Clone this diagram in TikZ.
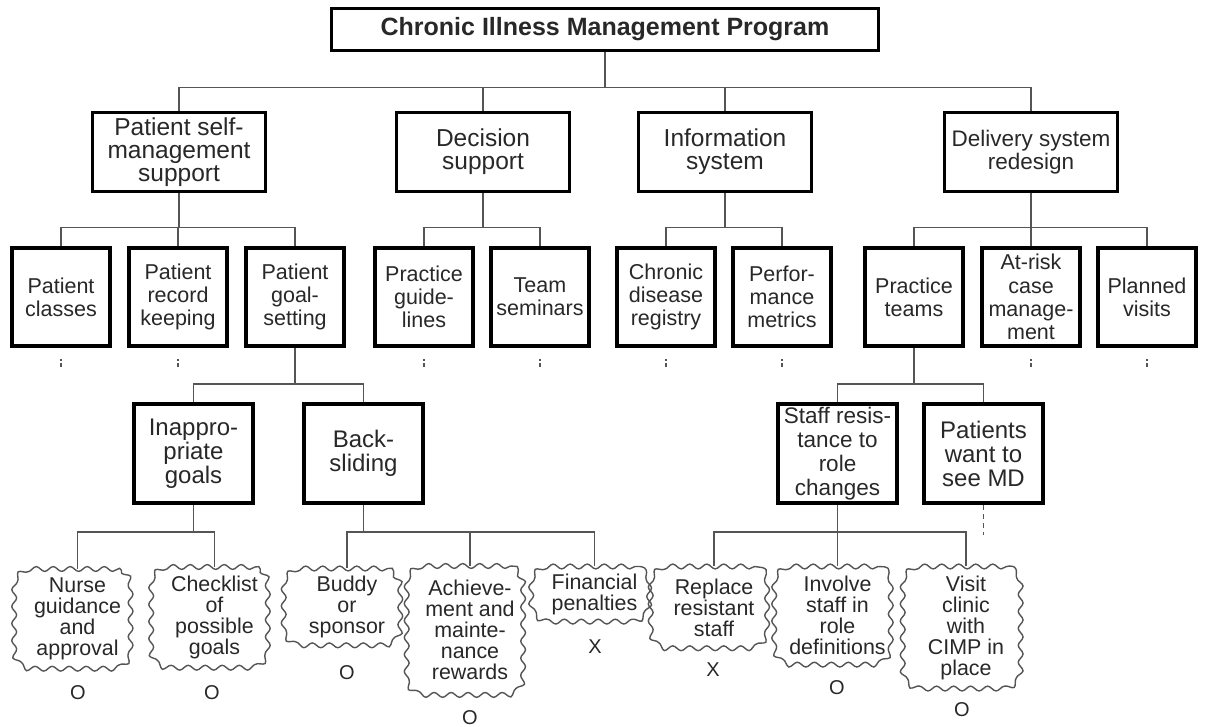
\documentclass[tikz,border=0pt]{standalone}
\usepackage{fontspec}
\setmainfont{Liberation Sans}
\usepackage{tikz}
\usetikzlibrary{calc,decorations.pathmorphing}
\definecolor{ink}{RGB}{40, 40, 40}
\definecolor{wire}{RGB}{85, 85, 85}

\begin{document}
\begin{tikzpicture}[x=1pt, y=-1pt,
  box/.style={draw=black, rectangle, inner sep=0pt, align=center, text=ink, fill=white},
  topbox/.style={box, line width=3pt, minimum width=547pt, minimum height=42pt, font=\bfseries\fontsize{25}{25}\selectfont},
  areabox/.style={box, line width=3pt, minimum width=173pt, minimum height=79pt, font=\fontsize{24.5}{23}\selectfont},
  compbox/.style={box, line width=4pt, minimum width=98pt, minimum height=98pt, font=\fontsize{21.5}{23.3}\selectfont},
  probbox/.style={box, line width=4pt, minimum width=119pt, minimum height=99pt, font=\fontsize{24}{24}\selectfont},
  idea/.style={rectangle, rounded corners=18pt, fill=white, inner sep=0pt,
    postaction={draw=wire, line width=1.4pt, sharp corners, decorate,
      decoration={snake, segment length=17pt, amplitude=2.4pt}},
    minimum width=117pt, align=center, text=ink, font=\fontsize{21.4}{21}\selectfont},
  verdict/.style={text=ink, inner sep=0pt, font=\fontsize{20}{20}\selectfont},
  link/.style={draw=wire, line width=1.5pt},
  stub/.style={draw=wire, line width=1.5pt, dash pattern=on 2pt off 2pt on 5pt off 10pt}]
  \useasboundingbox (0,0) rectangle (1206,727);

  % Program and its four parts
  \node[topbox] (cimp) at (605,29.5) {Chronic Illness Management Program};
  \node[areabox] (selfm) at (179,152) {Patient self-\\management\\support};
  \node[areabox] (decis) at (483,152) {Decision\\support};
  \node[areabox] (infos) at (725,152) {Information\\system};
  \node[areabox, font=\fontsize{22.5}{23}\selectfont] (deliv) at (1031,152) {Delivery system\\redesign};

  % Components
  \node[compbox] (pclass) at (61,297) {Patient\\classes};
  \node[compbox] (precord) at (178,297) {Patient\\record\\keeping};
  \node[compbox] (pgoal) at (295,297) {Patient\\goal-\\setting};
  \node[compbox] (pguide) at (424,297) {Practice\\guide-\\lines};
  \node[compbox] (tsem) at (540,297) {Team\\seminars};
  \node[compbox] (cdreg) at (666,297) {Chronic\\disease\\registry};
  \node[compbox] (pmetr) at (782,297) {Perfor-\\mance\\metrics};
  \node[compbox] (pteam) at (914,297) {Practice\\teams};
  \node[compbox] (atrisk) at (1031,297) {At-risk\\case\\manage-\\ment};
  \node[compbox] (pvisit) at (1147,297) {Planned\\visits};

  % Problems
  \node[probbox] (inapp) at (193.5,453.5) {Inappro-\\priate\\goals};
  \node[probbox] (backs) at (363.5,453.5) {Back-\\sliding};
  \node[probbox, font=\fontsize{22.5}{24}\selectfont] (staffr) at (837.5,453.5) {Staff resis-\\tance to\\role\\changes};
  \node[probbox] (pwant) at (983.5,453.5) {Patients\\want to\\see MD};

  % Options
  \node[idea, minimum height=100pt] (nurse) at (77.5,619) {Nurse\\guidance\\and\\approval};
  \node[idea, minimum height=101pt] (check) at (214.5,617.5) {Checklist\\of\\possible\\goals};
  \node[idea, minimum height=76pt] (buddy) at (347,606.5) {Buddy\\or\\sponsor};
  \node[idea, minimum height=128pt] (achieve) at (470,630) {Achieve-\\ment and\\mainte-\\nance\\rewards};
  \node[idea, minimum height=55pt] (finpen) at (594.5,594) {Financial\\penalties};
  \node[idea, minimum height=82pt] (replace) at (714,607.5) {Replace\\resistant\\staff};
  \node[idea, minimum height=98pt] (involve) at (837.5,615.5) {Involve\\staff in\\role\\definitions};
  \node[idea, minimum height=122pt] (visitc) at (966,627.5) {Visit\\clinic\\with\\CIMP in\\place};

  % Verdicts
  \node[verdict] (vnurse) at (78,693) {O};
  \node[verdict] (vcheck) at (212,693) {O};
  \node[verdict] (vbuddy) at (347,673) {O};
  \node[verdict] (vachieve) at (470,718) {O};
  \node[verdict] (vfinpen) at (595,647) {X};
  \node[verdict] (vreplace) at (713,670) {X};
  \node[verdict] (vinvolve) at (837,688) {O};
  \node[verdict] (vvisitc) at (962,710) {O};

  % Tree links
  \foreach \c in {selfm,decis,infos,deliv}
    \draw[link] (cimp.south) -- ++(0,35.5) -| (\c.north);
  \foreach \c in {pclass,precord,pgoal}
    \draw[link] (selfm.south) -- ++(0,34.5) -| (\c.north);
  \foreach \c in {pguide,tsem}
    \draw[link] (decis.south) -- ++(0,34.5) -| (\c.north);
  \foreach \c in {cdreg,pmetr}
    \draw[link] (infos.south) -- ++(0,34.5) -| (\c.north);
  \foreach \c in {pteam,atrisk,pvisit}
    \draw[link] (deliv.south) -- ++(0,34.5) -| (\c.north);
  \foreach \c in {inapp,backs}
    \draw[link] (pgoal.south) -- ++(0,36) -| (\c.north);
  \foreach \c in {staffr,pwant}
    \draw[link] (pteam.south) -- ++(0,36) -| (\c.north);
  \foreach \c in {nurse,check}
    \draw[link] (inapp.south) -- ++(0,27) -| (\c.north);
  \foreach \c in {buddy,achieve,finpen}
    \draw[link] (backs.south) -- ++(0,27) -| (\c.north);
  \foreach \c in {replace,involve,visitc}
    \draw[link] (staffr.south) -- ++(0,27) -| (\c.north);
  \draw[link, dash pattern=on 5pt off 4pt] (pwant.south) -- ++(0,30);

  % Unexpanded branches
  \foreach \c in {pclass,precord,pguide,tsem,cdreg,pmetr,atrisk,pvisit}
    \draw[stub] (\c.south) ++(0,11) -- ++(0,8);
\end{tikzpicture}
\end{document}
